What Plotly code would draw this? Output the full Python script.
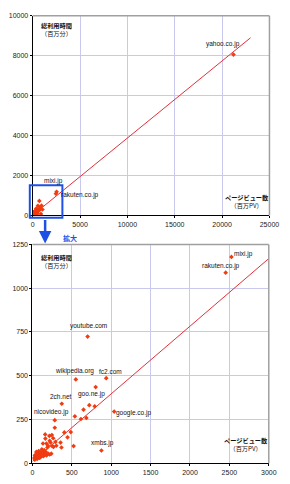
import plotly.graph_objects as go

# ---- data (page views: million PV, total time: million minutes) ----
pv_named = [21200, 2526, 2453, 701, 551, 937, 1038, 373, 284, 876]
time_named = [8060, 1179, 1089, 724, 479, 486, 295, 340, 246, 73]
names = ["yahoo.co.jp", "mixi.jp", "rakuten.co.jp", "youtube.com", "wikipedia.org",
         "fc2.com", "google.co.jp", "2ch.net", "nicovideo.jp", "xmbs.jp"]

pv_other = [803, 722, 791, 649, 539, 685, 616, 284, 523, 487, 405, 446, 357, 369,
            162, 215, 247, 264, 292, 178, 134, 304, 251, 191, 231, 268, 198, 219, 165,
            20, 30, 40, 50, 60, 70, 80, 90, 100, 110, 120, 130, 140, 150, 160, 170,
            180, 200, 220, 240, 60, 100, 140, 30, 80, 120, 90, 50, 130, 110]
time_other = [435, 332, 325, 306, 268, 259, 253, 203, 98, 178, 176, 148, 118, 90,
              165, 156, 161, 143, 122, 113, 113, 100, 98, 90, 118, 94, 100, 128, 141,
              30, 45, 35, 50, 40, 55, 45, 60, 50, 65, 55, 70, 60, 75, 50, 65,
              45, 55, 50, 55, 25, 35, 40, 20, 70, 80, 30, 65, 45, 40]

trend_x = [0, 23000]
trend_y = [10, 8900]

# label positions (data coordinates)
top_labels = {"yahoo.co.jp": (20080, 8580), "mixi.jp": (2160, 1740), "rakuten.co.jp": (5040, 1010)}
bot_labels = {"mixi.jp": (2684, 1194), "rakuten.co.jp": (2392, 1126), "youtube.com": (710, 785),
              "wikipedia.org": (535, 526), "fc2.com": (989, 526), "goo.ne.jp": (754, 398),
              "2ch.net": (357, 381), "nicovideo.jp": (243, 291), "google.co.jp": (1289, 285),
              "xmbs.jp": (892, 113)}

W, H = 290, 484
FONT = "Liberation Sans, Arial, sans-serif"
PT_COLOR = "#f03c10"
LINE_COLOR = "#e0303a"
GRID = "#c9c9ee"

fig = go.Figure()
all_x = pv_named + pv_other
all_y = time_named + time_other
for xa, ya in (("x", "y"), ("x2", "y2")):
    fig.add_trace(go.Scatter(x=trend_x, y=trend_y, mode="lines", xaxis=xa, yaxis=ya,
                             line=dict(color=LINE_COLOR, width=1), hoverinfo="skip"))
    fig.add_trace(go.Scatter(x=all_x, y=all_y, mode="markers", xaxis=xa, yaxis=ya,
                             marker=dict(symbol="diamond", size=3.6, color=PT_COLOR),
                             cliponaxis=True))

def px(v):
    return v / W

def py(v):
    return (H - v) / H

axis_common = dict(showgrid=True, gridcolor=GRID, gridwidth=1, zeroline=False,
                   showline=True, linecolor="#000", linewidth=1, mirror=False,
                   ticks="outside", ticklen=2, tickcolor="#000", tickformat="d",
                   tickfont=dict(family=FONT, size=7, color="#222"))

fig.update_layout(
    width=W, height=H, margin=dict(l=0, r=0, t=0, b=0),
    paper_bgcolor="white", plot_bgcolor="white", showlegend=False,
    xaxis=dict(domain=[px(32), px(279)], range=[0, 25000], dtick=5000, anchor="y", **axis_common),
    yaxis=dict(domain=[py(214.5), py(12)], range=[0, 10000], dtick=2000, anchor="x", **axis_common),
    xaxis2=dict(domain=[px(31.7), px(278.3)], range=[0, 3000], dtick=500, anchor="y2", **axis_common),
    yaxis2=dict(domain=[py(466), py(244)], range=[0, 1250], dtick=250, anchor="x2", **axis_common),
)

shapes = []
# gray frame top/right for both plots
for (x0, x1, y0, y1) in ((32, 279, 214.5, 12), (31.7, 278.3, 466, 244)):
    shapes.append(dict(type="line", xref="paper", yref="paper", x0=px(x0), x1=px(x1),
                       y0=py(y1), y1=py(y1), line=dict(color="#a0a0a0", width=1.5)))
    shapes.append(dict(type="line", xref="paper", yref="paper", x0=px(x1), x1=px(x1),
                       y0=py(y0), y1=py(y1), line=dict(color="#a0a0a0", width=1.5)))
# blue zoom box
shapes.append(dict(type="rect", xref="paper", yref="paper", x0=px(29), x1=px(63),
                   y0=py(217), y1=py(184), line=dict(color="#1e50e6", width=2)))
fig.update_layout(shapes=shapes)

ann = []
tf = dict(family=FONT, size=6.5, color="#111")
for n, (x, y) in top_labels.items():
    ann.append(dict(x=x, y=y, xref="x", yref="y", text=n, showarrow=False, font=tf))
for n, (x, y) in bot_labels.items():
    ann.append(dict(x=x, y=y, xref="x2", yref="y2", text=n, showarrow=False, font=tf))

ylab = "<b>総利用時間</b><br>（百万分）"
xlab = "<b>ページビュー数</b><br>（百万PV）"
lf = dict(family="Noto Sans CJK JP", size=6.2, color="#111")
ann.append(dict(x=2500, y=9300, xref="x", yref="y", text=ylab, showarrow=False, font=lf, align="center"))
ann.append(dict(x=22600, y=720, xref="x", yref="y", text=xlab, showarrow=False, font=lf, align="center"))
ann.append(dict(x=300, y=1155, xref="x2", yref="y2", text=ylab, showarrow=False, font=lf, align="center"))
ann.append(dict(x=2710, y=105, xref="x2", yref="y2", text=xlab, showarrow=False, font=lf, align="center"))

# arrow from zoom box down to lower chart
ann.append(dict(x=px(45), y=py(243), xref="paper", yref="paper", ax=0, ay=-25,
                axref="pixel", ayref="pixel", text="", showarrow=True,
                arrowhead=2, arrowsize=1, arrowwidth=2.5, arrowcolor="#1e50e6"))
ann.append(dict(x=px(62), y=py(237), xref="paper", yref="paper", text="<b>拡大</b>",
                showarrow=False, font=dict(family="Noto Sans CJK JP", size=7, color="#1e50e6")))
fig.update_layout(annotations=ann)

fig.write_html("out.html")
